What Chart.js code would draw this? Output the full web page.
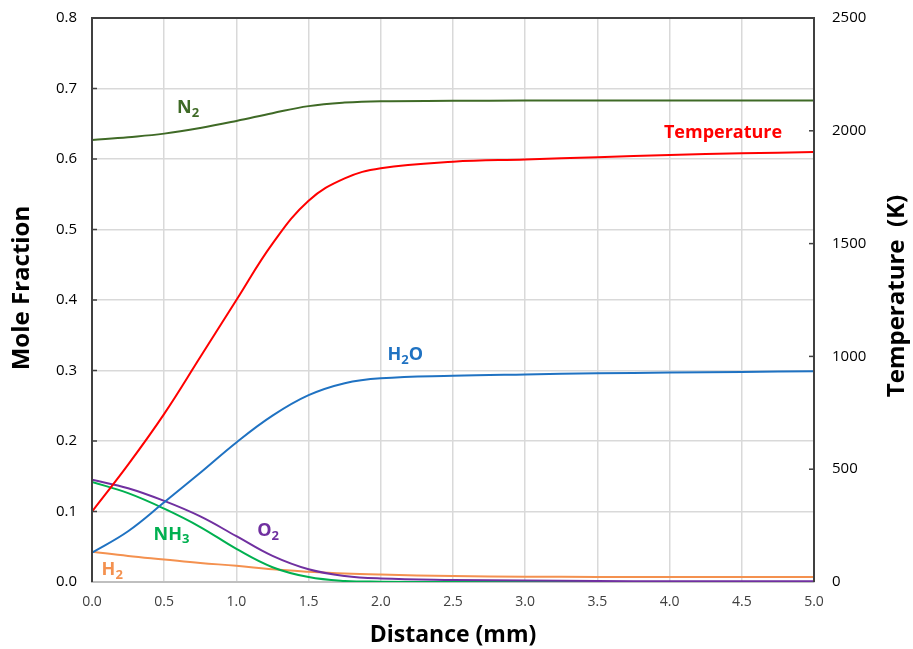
<!DOCTYPE html>
<html>
<head>
<meta charset="utf-8">
<script src="https://cdn.jsdelivr.net/npm/chart.js@4"></script>
<style>
  html, body { margin: 0; padding: 0; background: #fff; }
  #wrap { width: 913px; height: 649px; }
</style>
</head>
<body>
<div id="wrap"><canvas id="chart"></canvas></div>
<script>
// distance along the flame (mm)
const distance = [0, 0.25, 0.5, 0.75, 1.0, 1.25, 1.5, 1.75, 2.0, 2.5, 3.0, 3.5, 4.0, 4.5, 5.0];

// mole fractions
const n2  = [0.627, 0.631, 0.636, 0.644, 0.654, 0.665, 0.675, 0.680, 0.682, 0.6825, 0.683, 0.683, 0.683, 0.683, 0.683];
const h2o = [0.0416, 0.072, 0.113, 0.155, 0.198, 0.236, 0.265, 0.282, 0.289, 0.2926, 0.2945, 0.296, 0.297, 0.298, 0.299];
const o2  = [0.145, 0.133, 0.115, 0.093, 0.065, 0.037, 0.018, 0.0085, 0.005, 0.003, 0.002, 0.0015, 0.001, 0.001, 0.001];
const nh3 = [0.142, 0.126, 0.104, 0.078, 0.047, 0.021, 0.007, 0.0015, 0.0005, 0, 0, 0, 0, 0, 0];
const h2  = [0.043, 0.037, 0.032, 0.027, 0.023, 0.018, 0.0146, 0.012, 0.0105, 0.0085, 0.0075, 0.0072, 0.007, 0.007, 0.007];

// temperature (K), right axis
const temperature = [312, 520, 745, 997, 1250, 1500, 1690, 1789, 1834, 1863, 1873, 1883, 1893, 1900, 1906];

// curve labels: [main, subscript, rest, x (mm), y (mole fraction), colour]
const curveLabels = [
  ["N", "2", "", 0.665, 0.672, "#3f6a26"],
  ["Temperature", "", "", 4.37, 0.637, "#ff0000"],
  ["H", "2", "O", 2.17, 0.322, "#1f72c2"],
  ["O", "2", "", 1.22, 0.072, "#7030a0"],
  ["NH", "3", "", 0.55, 0.067, "#00b050"],
  ["H", "2", "", 0.14, 0.017, "#f4914f"]
];

function pts(arr) {
  return arr.map((v, i) => ({ x: distance[i], y: v }));
}

function series(label, arr, color, axis) {
  return {
    label: label,
    data: pts(arr),
    borderColor: color,
    backgroundColor: color,
    borderWidth: 2,
    pointRadius: 0,
    tension: 0.4,
    yAxisID: axis || "y"
  };
}

const font = "'Open Sans', 'Liberation Sans', sans-serif";

function vertTitle(ctx, text, x, y) {
  ctx.save();
  ctx.fillStyle = "#000";
  ctx.font = "bold 24px " + font;
  ctx.textAlign = "center";
  ctx.textBaseline = "middle";
  ctx.translate(x, y);
  ctx.rotate(-Math.PI / 2);
  ctx.fillText(text, 0, 0);
  ctx.restore();
}

const labelPlugin = {
  id: "curveLabels",
  afterDatasetsDraw(chart) {
    const ctx = chart.ctx;
    const xs = chart.scales.x, ys = chart.scales.y;
    ctx.save();
    ctx.textBaseline = "middle";
    curveLabels.forEach(l => {
      const big = "bold 18px " + font, small = "bold 13px " + font;
      ctx.font = big; const w1 = ctx.measureText(l[0]).width;
      const w3 = ctx.measureText(l[2]).width;
      ctx.font = small; const w2 = ctx.measureText(l[1]).width;
      let x = xs.getPixelForValue(l[3]) - (w1 + w2 + w3) / 2;
      const y = ys.getPixelForValue(l[4]);
      ctx.fillStyle = l[5];
      ctx.textAlign = "left";
      ctx.font = big; ctx.fillText(l[0], x, y);
      ctx.font = small; ctx.fillText(l[1], x + w1, y + 5);
      ctx.font = big; ctx.fillText(l[2], x + w1 + w2, y);
    });
    ctx.restore();
  },
  afterDraw(chart) {
    const ctx = chart.ctx, a = chart.chartArea;
    ctx.save();
    // frame: left, right, top
    ctx.strokeStyle = "#404040";
    ctx.lineWidth = 2;
    ctx.beginPath();
    ctx.moveTo(a.left, a.bottom); ctx.lineTo(a.left, a.top);
    ctx.lineTo(a.right, a.top); ctx.lineTo(a.right, a.bottom);
    ctx.stroke();
    // small inside ticks
    ctx.lineWidth = 1.5;
    const ys = chart.scales.y, yr = chart.scales.y1;
    [0.1, 0.2, 0.3, 0.4, 0.5, 0.6, 0.7].forEach(v => {
      const p = ys.getPixelForValue(v);
      ctx.beginPath(); ctx.moveTo(a.left, p); ctx.lineTo(a.left + 5, p); ctx.stroke();
    });
    [500, 1000, 1500, 2000].forEach(v => {
      const p = yr.getPixelForValue(v);
      ctx.beginPath(); ctx.moveTo(a.right, p); ctx.lineTo(a.right - 5, p); ctx.stroke();
    });
    ctx.restore();
    // axis titles, both reading bottom to top
    vertTitle(ctx, "Mole Fraction", 22, 288);
    vertTitle(ctx, "Temperature  (K)", 897, 296);
  }
};

new Chart(document.getElementById("chart"), {
  type: "line",
  data: {
    datasets: [
      series("N2", n2, "#3f6a26"),
      series("Temperature", temperature, "#ff0000", "y1"),
      series("H2O", h2o, "#1f72c2"),
      series("O2", o2, "#7030a0"),
      series("NH3", nh3, "#00b050"),
      series("H2", h2, "#f4914f")
    ]
  },
  options: {
    responsive: true,
    maintainAspectRatio: false,
    animation: false,
    layout: { padding: { top: 18, left: 0, right: 0, bottom: 0 } },
    plugins: { legend: { display: false }, tooltip: { enabled: false } },
    scales: {
      x: {
        type: "linear",
        min: 0, max: 5,
        ticks: {
          stepSize: 0.5,
          color: "#404040",
          font: { family: font, size: 14 },
          padding: 12,
          callback: v => v.toFixed(1)
        },
        grid: { color: "#d9d9d9", lineWidth: 1.5, drawTicks: false },
        border: { color: "#bfbfbf", width: 2 },
        title: {
          display: true, text: "Distance (mm)", color: "#000",
          font: { family: font, size: 23, weight: "bold" },
          padding: { top: 2, bottom: 0 }
        },
        afterFit: s => { s.height = 67; s.paddingLeft = 0; s.paddingRight = 0; }
      },
      y: {
        position: "left",
        min: 0, max: 0.8,
        ticks: {
          stepSize: 0.1,
          color: "#000",
          font: { family: font, size: 15 },
          padding: 15,
          callback: v => v.toFixed(1)
        },
        grid: { color: "#d9d9d9", lineWidth: 1.5, drawTicks: false },
        border: { display: false },
        afterFit: s => { s.width = 92; s.paddingTop = 0; s.paddingBottom = 0; }
      },
      y1: {
        position: "right",
        min: 0, max: 2500,
        ticks: {
          stepSize: 500,
          color: "#000",
          font: { family: font, size: 15 },
          padding: 18,
          callback: v => String(v)
        },
        grid: { display: false, drawTicks: false },
        border: { display: false },
        afterFit: s => { s.width = 99; s.paddingTop = 0; s.paddingBottom = 0; }
      }
    }
  },
  plugins: [labelPlugin]
});
</script>
</body>
</html>
